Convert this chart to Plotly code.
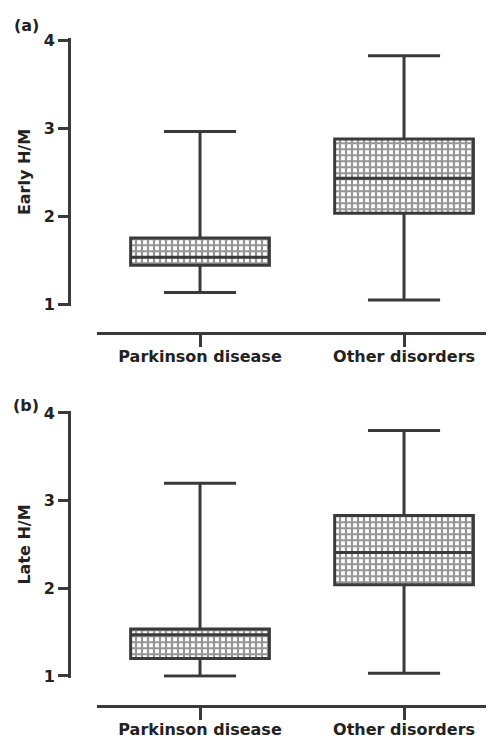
import plotly.graph_objects as go

categories = ["Parkinson disease", "Other disorders"]

# Panel (a) Early H/M
early_lower = [1.13, 1.045]
early_q1 = [1.44, 2.03]
early_median = [1.53, 2.43]
early_q3 = [1.75, 2.875]
early_upper = [2.96, 3.82]

# Panel (b) Late H/M
late_lower = [1.0, 1.03]
late_q1 = [1.20, 2.04]
late_median = [1.47, 2.41]
late_q3 = [1.535, 2.83]
late_upper = [3.20, 3.80]

y_ticks = [1, 2, 3, 4]

OFF = 8  # default page body margin
W, H = 494 - OFF, 739 - OFF
DARK = "#3a3a3a"
FONT = "DejaVu Sans"


def px_x(p):
    return (p - OFF) / W


def px_y(p):
    return 1 - (p - OFF) / H


fig = go.Figure()

panels = [
    dict(lower=early_lower, q1=early_q1, med=early_median, q3=early_q3, upper=early_upper,
         xa="x", ya="y", title="Early H/M"),
    dict(lower=late_lower, q1=late_q1, med=late_median, q3=late_q3, upper=late_upper,
         xa="x2", ya="y2", title="Late H/M"),
]

BOXW = 0.68
pattern = dict(shape="+", fgcolor="#2e2e2e", bgcolor="white", size=6, solidity=0.6, fillmode="overlay")

for p in panels:
    fig.add_trace(go.Bar(
        x=categories, base=p["q1"], y=[m - a for m, a in zip(p["med"], p["q1"])],
        width=BOXW, marker=dict(color="white", pattern=pattern, line=dict(width=0)),
        xaxis=p["xa"], yaxis=p["ya"], showlegend=False, hoverinfo="skip"))
    fig.add_trace(go.Bar(
        x=categories, base=p["med"], y=[b - m for b, m in zip(p["q3"], p["med"])],
        width=BOXW, marker=dict(color="white", pattern=pattern, line=dict(width=0)),
        xaxis=p["xa"], yaxis=p["ya"], showlegend=False, hoverinfo="skip"))
    fig.add_trace(go.Box(
        x=categories, q1=p["q1"], median=p["med"], q3=p["q3"],
        lowerfence=p["lower"], upperfence=p["upper"],
        width=BOXW, whiskerwidth=0.52, boxpoints=False,
        fillcolor="rgba(0,0,0,0)", line=dict(color=DARK, width=3),
        xaxis=p["xa"], yaxis=p["ya"], showlegend=False))

unit_a = (304 - 40) / 3.0
unit_b = (676 - 413) / 3.0
pad = 0.02

tfont = dict(family=FONT, size=16, color="#222", weight="bold")

common_y = dict(
    tickvals=y_ticks, ticks="outside", ticklen=10, tickwidth=3, tickcolor=DARK,
    showline=True, linecolor=DARK, linewidth=3, showgrid=False, zeroline=False,
    tickfont=tfont, anchor="free", position=px_x(69), automargin=False,
    range=[1 - pad, 4 + pad],
)
common_x = dict(
    type="category", range=[-0.505, 1.441], domain=[px_x(97), 1.0],
    ticks="outside", ticklen=12, tickwidth=3, tickcolor=DARK,
    showline=True, linecolor=DARK, linewidth=3, showgrid=False, zeroline=False,
    tickfont=tfont, anchor="free", automargin=False, ticklabelstandoff=-4,
)

fig.update_layout(
    width=W, height=H, margin=dict(l=0, r=0, t=0, b=0),
    paper_bgcolor="white", plot_bgcolor="white",
    barmode="overlay", boxmode="overlay", showlegend=False,
    xaxis=dict(**common_x, position=px_y(333)),
    xaxis2=dict(**common_x, position=px_y(706)),
    yaxis=dict(**common_y,
               domain=[px_y(304 + pad * unit_a), px_y(40 - pad * unit_a)],
               title=dict(text="Early H/M", font=tfont, standoff=8)),
    yaxis2=dict(**common_y,
                domain=[px_y(676 + pad * unit_b), px_y(413 - pad * unit_b)],
                title=dict(text="Late H/M", font=tfont, standoff=8)),
    annotations=[
        dict(text="(a)", x=px_x(12), y=px_y(25), xref="paper", yref="paper", xanchor="left", yanchor="middle",
             showarrow=False, font=tfont),
        dict(text="(b)", x=px_x(11), y=px_y(405), xref="paper", yref="paper", xanchor="left", yanchor="middle",
             showarrow=False, font=tfont),
    ],
)

fig.write_html("out.html")
